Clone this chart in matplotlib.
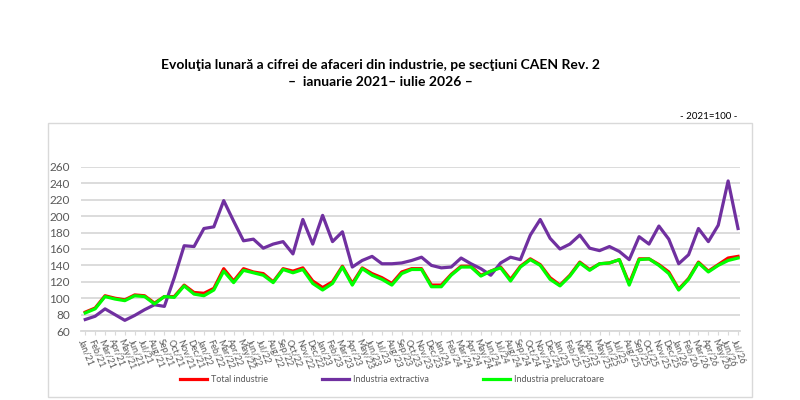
import matplotlib
matplotlib.use("Agg")
import matplotlib.pyplot as plt
from matplotlib.patches import Rectangle

plt.rcParams['font.family'] = ['Lato', 'DejaVu Sans']

# Etichete luni (ianuarie 2021 - iulie 2026)
luni = ['Jan', 'Feb', 'Mar', 'Apr', 'May', 'Jun', 'Jul', 'Aug', 'Sep', 'Oct', 'Nov', 'Dec']
ani = ['21', '22', '23', '24', '25', '26']
etichete = [f"{m}/{a}" for a in ani for m in luni][:67]

# Valori (2021=100)
total_industrie = [83, 88, 103, 100, 98, 104, 103, 94, 102, 102, 116, 107,
                   106, 112, 136, 121, 136, 132, 130, 120, 136, 133, 137, 121,
                   113, 120, 139, 118, 137, 130, 125, 118, 132, 136, 136, 116,
                   116, 129, 139, 139, 128, 133, 138, 123, 139, 148, 141, 125,
                   116, 128, 144, 135, 142, 143, 147, 118, 148, 148, 141, 132,
                   111, 124, 144, 133, 141, 149, 151]
industria_extractiva = [74, 78, 87, 80, 73, 79, 86, 92, 90, 125, 164, 163,
                        185, 187, 219, 194, 170, 172, 161, 166, 169, 154, 196, 166,
                        201, 169, 181, 138, 146, 151, 142, 142, 143, 146, 150, 140,
                        137, 138, 149, 142, 136, 128, 143, 150, 147, 177, 196, 173,
                        160, 166, 177, 161, 158, 163, 157, 147, 175, 166, 188, 172,
                        142, 153, 185, 169, 189, 243, 185]
industria_prelucratoare = [82, 87, 102, 99, 97, 103, 102, 93, 102, 101, 115, 105,
                           103, 110, 133, 119, 134, 131, 128, 119, 135, 131, 135, 118,
                           110, 118, 138, 116, 136, 128, 123, 116, 130, 135, 135, 114,
                           114, 128, 138, 138, 127, 133, 137, 121, 138, 147, 140, 123,
                           115, 127, 143, 134, 142, 143, 147, 116, 147, 148, 140, 130,
                           110, 123, 143, 132, 140, 146, 149]

x = list(range(len(etichete)))

fig = plt.figure(figsize=(8, 4), dpi=100)
ax = fig.add_axes([0.101, 0.1725, 0.824, 0.41])

# Chenarul zonei graficului
fig.patches.append(Rectangle((0.06, 0.008), 0.88, 0.685, transform=fig.transFigure,
                             fill=False, edgecolor='#D9D9D9', linewidth=1))

ax.plot(x, total_industrie, color='#FF0000', lw=2.3, label='Total industrie')
ax.plot(x, industria_extractiva, color='#7030A0', lw=2.3, label='Industria extractiva')
ax.plot(x, industria_prelucratoare, color='#00FF00', lw=2.3, label='Industria prelucratoare')

ax.set_ylim(60, 260)
ax.set_yticks(range(60, 261, 20))
ax.set_xlim(-0.45, 66.2)
ax.set_xticks(x)
ax.set_xticklabels(etichete, rotation=-68, ha='left', va='top', rotation_mode='anchor',
                   fontsize=6.5, color='#595959')
ax.tick_params(axis='x', length=3, color='#D9D9D9', pad=2)
ax.tick_params(axis='y', length=0, labelsize=8.5, labelcolor='#595959', pad=8)
ax.grid(axis='y', color='#D9D9D9', lw=1.3)
ax.set_axisbelow(True)
for s in ['top', 'right', 'left']:
    ax.spines[s].set_visible(False)
ax.spines['bottom'].set_color('#D9D9D9')
ax.spines['bottom'].set_linewidth(1.3)

fig.text(0.476, 0.838, 'Evoluţia lunară a cifrei de afaceri din industrie, pe secţiuni CAEN Rev. 2',
         ha='center', va='center', fontsize=10, fontweight='bold', color='#000000')
fig.text(0.476, 0.795, '–  ianuarie 2021– iulie 2026 –',
         ha='center', va='center', fontsize=10, fontweight='bold', color='#000000')
fig.text(0.922, 0.708, '- 2021=100 -', ha='right', va='center', fontsize=7, color='#000000')

fig.legend(loc='center', bbox_to_anchor=(0.49, 0.05), ncol=3, frameon=False,
           fontsize=6.5, handlelength=3, handletextpad=0.4, columnspacing=6,
           labelcolor='#595959')

fig.savefig('out.png', dpi=100)
